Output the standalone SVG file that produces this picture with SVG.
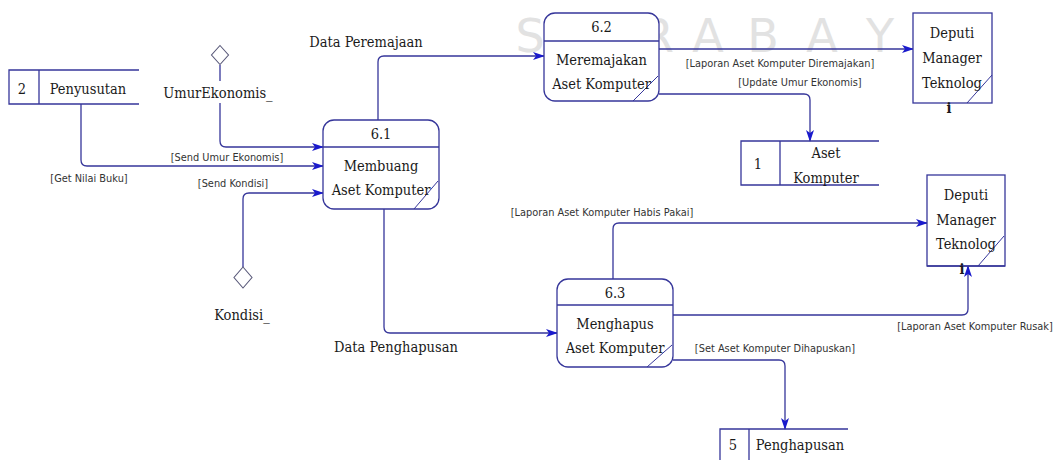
<svg xmlns="http://www.w3.org/2000/svg" width="1057" height="460" viewBox="0 0 1057 460" font-family="'DejaVu Serif Condensed', 'DejaVu Serif', serif">
  <style>
    .box { fill: #ffffff; stroke: #36369a; stroke-width: 1.3; }
    .edge { fill: none; stroke: #36369a; stroke-width: 1.3; }
    .flow { fill: none; stroke: #36369a; stroke-width: 1.3; marker-end: url(#arrow); }
    .slash { stroke: #36369a; stroke-width: 1; }
    .diamond { fill: #ffffff; stroke: #5a5a7a; stroke-width: 1.1; }
    .node { font-size: 14.5px; font-stretch: condensed; fill: #1a1a1a; text-anchor: middle; }
    .lbl { font-size: 9.8px; fill: #333333; text-anchor: middle; }
    .flowname { font-size: 14.5px; font-stretch: condensed; fill: #1a1a1a; text-anchor: middle; }
    .mark { font-size: 46px; fill: #e2e2e2; text-anchor: middle; }
  </style>
  <defs>
    <marker id="arrow" viewBox="0 0 12 10" refX="11" refY="5" markerWidth="12" markerHeight="10" markerUnits="userSpaceOnUse" orient="auto">
      <path d="M0,1 L12,5 L0,9 L3,5 z" fill="#1a1acc"/>
    </marker>
  </defs>

  <rect width="1057" height="460" fill="#ffffff"/>

  <!-- background lettering -->
  <text class="mark" y="52" font-family="'DejaVu Sans', sans-serif"><tspan x="530">S</tspan><tspan x="592">U</tspan><tspan x="658">R</tspan><tspan x="708">A</tspan><tspan x="763">B</tspan><tspan x="822">A</tspan><tspan x="880">Y</tspan><tspan x="935">A</tspan></text>

  <!-- data flows -->
  <g id="connectors">
    <path class="flow" d="M220,65 V141 Q220,147 226,147 H323"/>
    <path class="flow" d="M81,104 V160 Q81,166 87,166 H323"/>
    <path class="flow" d="M243,267 V199 Q243,193 249,193 H323"/>
    <path class="flow" d="M378,120 V62 Q378,56 384,56 H544"/>
    <path class="flow" d="M384,209 V327 Q384,333 390,333 H557"/>
    <path class="flow" d="M659,49 H913"/>
    <path class="flow" d="M659,94 H804 Q810,94 810,100 V141"/>
    <path class="flow" d="M613,279 V229 Q613,223 619,223 H927"/>
    <path class="flow" d="M673,315 H962 Q968,315 968,309 V266"/>
    <path class="flow" d="M673,360 H779 Q785,360 785,366 V429"/>

    <g font-family="'DejaVu Sans', sans-serif">
      <text class="lbl" x="227" y="161">[Send Umur Ekonomis]</text>
      <text class="lbl" x="89" y="182">[Get Nilai Buku]</text>
      <text class="lbl" x="233" y="187">[Send Kondisi]</text>
      <text class="lbl" x="780" y="67">[Laporan Aset Komputer Diremajakan]</text>
      <text class="lbl" x="800" y="86">[Update Umur Ekonomis]</text>
      <text class="lbl" x="602" y="216">[Laporan Aset Komputer Habis Pakai]</text>
      <text class="lbl" x="975" y="330">[Laporan Aset Komputer Rusak]</text>
      <text class="lbl" x="775" y="352">[Set Aset Komputer Dihapuskan]</text>
    </g>
    <text class="flowname" x="366" y="47">Data Peremajaan</text>
    <text class="flowname" x="396" y="352">Data Penghapusan</text>
  </g>

  <!-- external inputs -->
  <g id="umur-ekonomis">
    <polygon class="diamond" points="220,45.5 228.5,55 220,64.5 211.5,55"/>
    <rect x="160" y="81" width="116" height="22" fill="#ffffff"/>
    <text class="node" x="218" y="98">UmurEkonomis_</text>
  </g>
  <g id="kondisi">
    <polygon class="diamond" points="243,267 252,277.5 243,288 234,277.5"/>
    <text class="node" x="242" y="320">Kondisi_</text>
  </g>

  <!-- processes -->
  <g id="p61">
    <rect class="box" x="323" y="120" width="116" height="89" rx="11"/>
    <line class="edge" x1="323" y1="147" x2="439" y2="147"/>
    <line class="slash" x1="414" y1="209" x2="438" y2="181"/>
    <text class="node" x="381" y="139">6.1</text>
    <text class="node" x="381" y="171">Membuang</text>
    <text class="node" x="381" y="195">Aset Komputer</text>
  </g>
  <g id="p62">
    <rect class="box" x="544" y="13" width="115" height="88" rx="11"/>
    <line class="edge" x1="544" y1="41" x2="659" y2="41"/>
    <line class="slash" x1="633" y1="101" x2="658" y2="76"/>
    <text class="node" x="601.5" y="32">6.2</text>
    <text class="node" x="601.5" y="65">Meremajakan</text>
    <text class="node" x="601.5" y="89">Aset Komputer</text>
  </g>
  <g id="p63">
    <rect class="box" x="557" y="279" width="116" height="88" rx="11"/>
    <line class="edge" x1="557" y1="305" x2="673" y2="305"/>
    <line class="slash" x1="647" y1="367" x2="672" y2="345"/>
    <text class="node" x="615" y="298">6.3</text>
    <text class="node" x="615" y="329">Menghapus</text>
    <text class="node" x="615" y="353">Aset Komputer</text>
  </g>

  <!-- external entities -->
  <g id="deputi-a">
    <rect class="box" x="913" y="13" width="79" height="90"/>
    <line class="slash" x1="967" y1="103" x2="992" y2="75"/>
    <text class="node" x="952" y="38">Deputi</text>
    <text class="node" x="952" y="63">Manager</text>
    <text class="node" x="952" y="88">Teknolog</text>
    <text class="node" x="949" y="113" font-weight="bold">i</text>
  </g>
  <g id="deputi-b">
    <rect class="box" x="927" y="175" width="78" height="91"/>
    <line class="edge" x1="927" y1="266" x2="1005" y2="266" stroke-width="2.6"/>
    <line class="slash" x1="978" y1="266" x2="1004" y2="236"/>
    <text class="node" x="966" y="200">Deputi</text>
    <text class="node" x="966" y="225">Manager</text>
    <text class="node" x="966" y="249">Teknolog</text>
    <text class="node" x="962" y="274" font-weight="bold">i</text>
  </g>

  <!-- data stores -->
  <g id="store-2">
    <path class="edge" d="M139,70 H9 V104 H139 M39,70 V104"/>
    <text class="node" x="22" y="94">2</text>
    <text class="node" x="88" y="94">Penyusutan</text>
  </g>
  <g id="store-1">
    <path class="edge" d="M879,141 H741 V185 H879 M780,141 V185"/>
    <text class="node" x="758" y="169">1</text>
    <text class="node" x="826" y="158">Aset</text>
    <text class="node" x="826" y="183">Komputer</text>
  </g>
  <g id="store-5">
    <path class="edge" d="M848,429 H720 V462 M749,429 V462"/>
    <text class="node" x="733" y="450">5</text>
    <text class="node" x="800" y="450">Penghapusan</text>
  </g>
</svg>
